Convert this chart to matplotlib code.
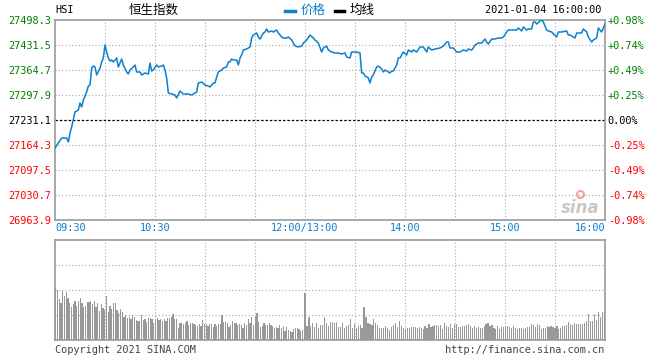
import numpy as np
import matplotlib
matplotlib.use('Agg')
import matplotlib.pyplot as plt

# HSI intraday, 2021-01-04; x = trading minutes since 09:30 (lunch removed)
prev_close = 27231.1
minutes = [0, 2, 4, 7, 8, 9, 10, 12, 14, 15, 16, 17, 19, 20, 21, 22, 23, 24, 25, 27,
           28, 29, 30, 31, 32, 33, 34, 35, 37, 38, 40, 41, 43, 44, 45, 47, 48, 49, 51, 52,
           54, 56, 57, 58, 59, 61, 62, 64, 65, 66, 67, 68, 70, 72, 73, 75, 77, 80, 82, 85,
           86, 88, 90, 92, 93, 95, 96, 97, 98, 100, 101, 103, 104, 105, 106, 107, 109, 110, 111, 112,
           113, 115, 117, 118, 119, 121, 122, 123, 125, 126, 127, 128, 130, 131, 133, 134, 136, 137, 139, 140,
           142, 144, 146, 148, 149, 151, 153, 155, 156, 158, 160, 161, 163, 164, 166, 168, 170, 172, 174, 175,
           177, 178, 181, 183, 184, 185, 186, 188, 189, 190, 191, 193, 194, 196, 197, 198, 200, 201, 202, 203,
           205, 206, 207, 208, 209, 211, 212, 214, 215, 217, 219, 221, 223, 224, 226, 228, 231, 233, 235, 236,
           237, 239, 241, 243, 245, 247, 248, 250, 251, 252, 254, 256, 257, 258, 259, 260, 262, 264, 266, 268,
           269, 271, 272, 275, 277, 278, 280, 281, 283, 284, 286, 287, 288, 289, 291, 292, 293, 295, 296, 298,
           299, 301, 302, 304, 307, 308, 309, 311, 312, 313, 316, 317, 319, 320, 322, 323, 324, 325, 326, 327,
           328, 330]
prices = [27156.3, 27169.6, 27183.0, 27183.0, 27172.3, 27196.4, 27212.4, 27252.5, 27257.8, 27276.5,
          27265.8, 27284.5, 27305.9, 27321.9, 27324.6, 27370.0, 27375.4, 27372.7, 27351.3, 27370.0,
          27386.1, 27396.8, 27431.5, 27412.8, 27396.8, 27388.7, 27391.4, 27386.1, 27396.8, 27372.7,
          27394.1, 27378.1, 27359.4, 27354.0, 27364.7, 27372.7, 27378.1, 27359.4, 27359.4, 27351.3,
          27356.7, 27354.0, 27383.4, 27362.0, 27364.7, 27378.1, 27372.7, 27375.4, 27378.1, 27364.7,
          27343.3, 27303.3, 27300.6, 27297.9, 27289.9, 27308.6, 27300.6, 27300.6, 27297.9, 27305.9,
          27330.0, 27332.6, 27324.6, 27321.9, 27319.3, 27330.0, 27330.0, 27346.0, 27359.4, 27364.7,
          27370.0, 27372.7, 27386.1, 27386.1, 27394.1, 27391.4, 27391.4, 27378.1, 27396.8, 27404.8,
          27418.1, 27420.8, 27426.2, 27450.2, 27458.2, 27463.6, 27452.9, 27447.5, 27463.6, 27466.2,
          27474.3, 27466.2, 27468.9, 27466.2, 27471.6, 27463.6, 27452.9, 27450.2, 27450.2, 27452.9,
          27444.9, 27428.8, 27426.2, 27428.8, 27436.8, 27444.9, 27458.2, 27450.2, 27444.9, 27436.8,
          27412.8, 27423.5, 27428.8, 27418.1, 27412.8, 27410.1, 27410.1, 27407.5, 27410.1, 27399.4,
          27396.8, 27412.8, 27412.8, 27410.1, 27356.7, 27356.7, 27348.7, 27343.3, 27330.0, 27346.0,
          27351.3, 27372.7, 27375.4, 27367.4, 27359.4, 27364.7, 27359.4, 27356.7, 27362.0, 27362.0,
          27378.1, 27396.8, 27396.8, 27404.8, 27412.8, 27404.8, 27418.1, 27412.8, 27418.1, 27412.8,
          27426.2, 27426.2, 27412.8, 27426.2, 27418.1, 27420.8, 27423.5, 27428.8, 27439.5, 27439.5,
          27423.5, 27423.5, 27412.8, 27412.8, 27418.1, 27415.5, 27420.8, 27418.1, 27423.5, 27431.5,
          27436.8, 27436.8, 27442.2, 27447.5, 27439.5, 27434.2, 27447.5, 27447.5, 27450.2, 27450.2,
          27452.9, 27466.2, 27471.6, 27471.6, 27471.6, 27476.9, 27468.9, 27479.6, 27471.6, 27474.3,
          27474.3, 27493.0, 27493.0, 27487.6, 27495.6, 27498.3, 27493.0, 27471.6, 27468.9, 27466.2,
          27460.9, 27452.9, 27466.2, 27466.2, 27468.9, 27458.2, 27458.2, 27452.9, 27450.2, 27463.6,
          27463.6, 27474.3, 27466.2, 27452.9, 27439.5, 27444.9, 27447.5, 27450.2, 27476.9, 27471.6,
          27466.2, 27487.6]

# volume bars (relative units, panel top = 100)
vol_am = [53, 50, 41, 37, 49, 44, 48, 42, 37, 33, 36, 39, 34, 39, 42, 37, 33, 34, 38, 38,
          39, 36, 39, 33, 37, 29, 36, 32, 30, 44, 28, 34, 31, 37, 37, 30, 27, 31, 28, 23,
          25, 22, 23, 21, 25, 23, 20, 19, 19, 25, 20, 21, 18, 22, 22, 21, 17, 21, 22, 20,
          21, 19, 21, 19, 22, 22, 23, 26, 21, 21, 12, 17, 17, 16, 17, 19, 15, 17, 17, 16,
          15, 14, 16, 14, 20, 16, 16, 14, 16, 16, 13, 16, 14, 16, 16, 25, 18, 18, 17, 13,
          15, 19, 17, 17, 15, 16, 15, 12, 17, 15, 21, 17, 23, 15, 24, 27, 18, 13, 14, 17,
          15, 15, 17, 15, 14, 12, 13, 12, 15, 12, 14, 9, 13, 10, 9, 8, 11, 12, 12, 11,
          9, 10, 7]
vol_pm = [47, 14, 23, 14, 17, 13, 17, 12, 15, 15, 23, 17, 14, 18, 18,
          17, 18, 13, 13, 17, 12, 14, 15, 21, 12, 16, 12, 14, 15, 12, 33, 23, 17, 16, 15,
          21, 17, 15, 12, 12, 12, 14, 12, 10, 13, 15, 17, 13, 19, 14, 12, 11, 12, 12, 13,
          13, 13, 12, 13, 12, 11, 14, 12, 16, 13, 14, 15, 15, 14, 15, 11, 17, 14, 13, 16,
          12, 16, 16, 13, 13, 14, 14, 15, 16, 14, 12, 14, 12, 13, 12, 12, 14, 16, 17, 14,
          15, 12, 11, 14, 11, 13, 13, 13, 14, 13, 12, 14, 12, 11, 12, 12, 11, 12, 13, 13,
          16, 15, 13, 16, 15, 11, 12, 12, 14, 13, 14, 13, 12, 14, 11, 12, 14, 14, 15, 18,
          16, 15, 17, 16, 16, 16, 16, 17, 19, 26, 19, 19, 26, 20, 28, 23, 28, 28]

price_levels = [27498.3, 27431.5, 27364.7, 27297.9, 27231.1, 27164.3, 27097.5, 27030.7, 26963.9]
pct_labels = ['+0.98%', '+0.74%', '+0.49%', '+0.25%', '0.00%', '-0.25%', '-0.49%', '-0.74%', '-0.98%']
time_ticks = [0, 60, 150, 210, 270, 330]
time_labels = ['09:30', '10:30', '12:00/13:00', '14:00', '15:00', '16:00']

assert len(minutes) == len(prices)

W, H = 660, 360
LINE = '#0B80D0'
FRAME = '#999999'
GRID = '#AAAAAA'
MONO = 'DejaVu Sans Mono'
CJK = ['Noto Sans CJK SC', 'DejaVu Sans']


def level_color(i):
    if i < 4:
        return '#008000'
    if i == 4:
        return 'black'
    return '#FF0000'


def box(x0, y0, x1, y1):
    # pixel box (top-left origin) -> figure fraction rect
    return [x0 / W, 1 - y1 / H, (x1 - x0) / W, (y1 - y0) / H]


fig = plt.figure(figsize=(W / 100, H / 100), dpi=100)
fig.patch.set_facecolor('white')

ax = fig.add_axes(box(55, 20, 605, 220))
axv = fig.add_axes(box(55, 240, 605, 340))

for a in (ax, axv):
    for s in a.spines.values():
        s.set_color(FRAME)
        s.set_linewidth(1.2)
    a.set_xlim(0, 330)
    a.tick_params(length=0)
    for m in range(30, 330, 30):
        a.axvline(m, color=GRID, lw=0.8, ls=(0, (1, 2)), zorder=0)

# main price panel
lo, hi = price_levels[-1], price_levels[0]
ax.set_ylim(lo, hi)
for lv in price_levels[1:-1]:
    if lv == prev_close:
        ax.axhline(lv, color='black', lw=0.9, ls=(0, (2, 1.5)), zorder=1)
    else:
        ax.axhline(lv, color=GRID, lw=0.8, ls=(0, (1, 2)), zorder=0)

ax.plot(minutes, prices, color=LINE, lw=1.1, zorder=3)

ax.set_yticks(price_levels)
ax.set_yticklabels([f'{v:.1f}' for v in price_levels], fontfamily=MONO, fontsize=7.4)
for i, t in enumerate(ax.get_yticklabels()):
    t.set_color(level_color(i))
ax.tick_params(axis='y', pad=3)

axr = ax.twinx()
axr.set_ylim(lo, hi)
axr.set_yticks(price_levels)
axr.set_yticklabels(pct_labels, fontfamily=MONO, fontsize=7.4)
for i, t in enumerate(axr.get_yticklabels()):
    t.set_color(level_color(i))
axr.tick_params(length=0, pad=2)
for s in axr.spines.values():
    s.set_visible(False)

ax.set_xticks(time_ticks)
ax.set_xticklabels(time_labels, fontfamily=MONO, fontsize=7.4, color=LINE)
xl = ax.get_xticklabels()
xl[0].set_ha('left')
xl[-1].set_ha('right')
ax.tick_params(axis='x', pad=2)

# sina watermark
ax.text(0.955, 0.06, 'sina', transform=ax.transAxes, ha='center', va='center',
        fontsize=12, fontstyle='italic', fontweight='bold', color='#C8C8C8', zorder=2)
ax.plot([0.955], [0.13], transform=ax.transAxes, marker='o', ms=5,
        mfc='none', mec='#F4A0A0', mew=1.5, zorder=2)

# volume panel
x_am = np.linspace(0.5, 149.5, len(vol_am))
x_pm = np.linspace(150, 329.5, len(vol_pm))
axv.bar(np.concatenate([x_am, x_pm]), vol_am + vol_pm, width=0.7,
        color='#999999', zorder=2)
axv.set_ylim(0, 100)
for lv in (25, 50, 75):
    axv.axhline(lv, color=GRID, lw=0.8, ls=(0, (1, 2)), zorder=0)
axv.set_xticks([])
axv.set_yticks([])

# header
fig.text(55 / W, 1 - 10 / H, 'HSI', fontfamily=MONO, fontsize=7.4, va='center', ha='left')
fig.text(154 / W, 1 - 10 / H, '恒生指数', fontfamily=CJK, fontsize=9, va='center', ha='center')
fig.add_artist(plt.Line2D([285 / W, 295 / W], [1 - 11 / H] * 2, color=LINE, lw=2.5))
fig.text(301 / W, 1 - 10 / H, '价格', fontfamily=CJK, fontsize=9, va='center', ha='left', color=LINE)
fig.add_artist(plt.Line2D([335 / W, 344 / W], [1 - 11 / H] * 2, color='black', lw=2.5))
fig.text(350 / W, 1 - 10 / H, '均线', fontfamily=CJK, fontsize=9, va='center', ha='left')
fig.text(601 / W, 1 - 10 / H, '2021-01-04 16:00:00', fontfamily=MONO, fontsize=7.4,
         va='center', ha='right')

# footer
fig.text(55 / W, 1 - 350 / H, 'Copyright 2021 SINA.COM', fontfamily=MONO, fontsize=7.4,
         va='center', ha='left', color='#444444')
fig.text(604 / W, 1 - 350 / H, 'http://finance.sina.com.cn', fontfamily=MONO, fontsize=7.4,
         va='center', ha='right', color='#444444')

fig.savefig('out.png', dpi=100, facecolor='white')
